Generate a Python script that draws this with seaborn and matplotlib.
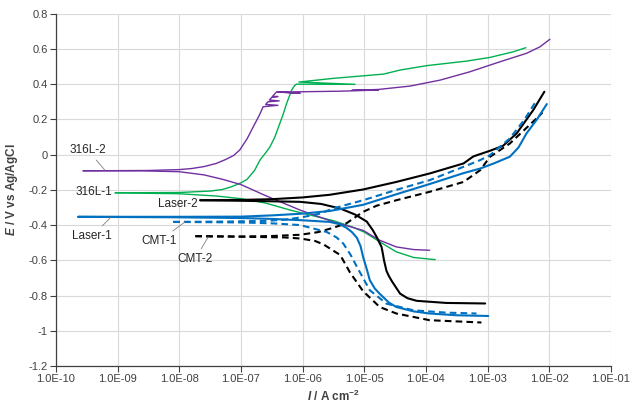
import numpy as np
import pandas as pd
import matplotlib
matplotlib.use("Agg")
import matplotlib.pyplot as plt
import seaborn as sns

# ---------------- data (log10 of current density, A cm-2; potential, V) ----------------
# 316L-1 (green)
l1_an_logI = [-9.04, -8.0, -7.5, -7.3, -7.15, -7.0, -6.9, -6.78, -6.69, -6.6, -6.53, -6.45, -6.37, -6.31, -6.26, -6.18, -6.13, -6.10,
              -5.15, -6.06, -5.50, -4.69, -4.42, -3.99, -3.34, -2.96, -2.58, -2.38]
l1_an_E = [-0.217, -0.215, -0.207, -0.198, -0.182, -0.16, -0.14, -0.09, -0.03, 0.01, 0.044, 0.10, 0.177, 0.235, 0.29, 0.365, 0.392, 0.40,
           0.399, 0.412, 0.433, 0.457, 0.48, 0.505, 0.531, 0.552, 0.584, 0.607]
l1_ca_logI = [-9.04, -8.0, -7.4, -7.0, -6.6, -6.2, -5.8, -5.5, -5.2, -5.0, -4.75, -4.48, -4.2, -3.85]
l1_ca_E = [-0.217, -0.222, -0.235, -0.25, -0.275, -0.315, -0.35, -0.375, -0.41, -0.44, -0.495, -0.552, -0.584, -0.596]

# 316L-2 (purple)
l2_an_logI = [-9.56, -8.5, -8.0, -7.8, -7.6, -7.4, -7.25, -7.12, -7.02, -6.90, -6.80, -6.70, -6.64, -6.40, -6.60, -6.56, -6.38,
              -6.54, -6.50, -6.40, -6.49, -6.42, -6.04, -6.40, -5.40, -5.20, -4.77, -5.20, -4.77, -4.26, -3.77,
              -3.29, -2.80, -2.37, -2.15, -1.99]
l2_an_E = [-0.092, -0.09, -0.085, -0.079, -0.068, -0.05, -0.028, -0.005, 0.026, 0.09, 0.158, 0.225, 0.272, 0.28, 0.285, 0.30, 0.305,
           0.31, 0.325, 0.33, 0.33, 0.357, 0.348, 0.355, 0.360, 0.362, 0.367, 0.365, 0.370, 0.389, 0.423,
           0.47, 0.527, 0.575, 0.612, 0.655]
l2_ca_logI = [-9.56, -8.6, -8.0, -7.6, -7.3, -7.0, -6.58, -6.04, -5.50, -5.02, -4.75, -4.48, -4.2, -3.94]
l2_ca_E = [-0.092, -0.092, -0.097, -0.115, -0.14, -0.17, -0.236, -0.315, -0.382, -0.43, -0.486, -0.524, -0.539, -0.543]

# Laser-1 (blue solid)
la1_an_logI = [-9.64, -8.0, -7.0, -6.5, -6.0, -5.56, -5.02, -4.48, -3.94, -3.39, -3.12, -2.90, -2.64, -2.5, -2.37, -2.2, -2.04]
la1_an_E = [-0.353, -0.353, -0.352, -0.345, -0.335, -0.32, -0.285, -0.225, -0.167, -0.105, -0.079, -0.05, -0.012, 0.04, 0.12, 0.2, 0.287]
la1_ca_logI = [-9.64, -8.0, -7.0, -6.5, -6.04, -5.56, -5.4, -5.29, -5.2, -5.12, -5.06, -5.02, -4.96, -4.91, -4.83, -4.75,
               -4.6, -4.48, -4.2, -3.94, -3.5, -2.99]
la1_ca_E = [-0.353, -0.356, -0.36, -0.365, -0.372, -0.382, -0.395, -0.415, -0.44, -0.472, -0.52, -0.58, -0.65, -0.713, -0.76, -0.79,
            -0.84, -0.865, -0.89, -0.902, -0.912, -0.916]

# Laser-2 (black solid)
la2_an_logI = [-7.66, -7.0, -6.5, -6.0, -5.56, -5.02, -4.48, -3.94, -3.39, -3.23, -2.96, -2.75, -2.53, -2.26, -2.08]
la2_an_E = [-0.259, -0.257, -0.253, -0.243, -0.228, -0.198, -0.155, -0.107, -0.05, -0.01, 0.022, 0.05, 0.12, 0.253, 0.357]
la2_ca_logI = [-7.66, -7.0, -6.5, -6.04, -5.7, -5.39, -5.15, -4.96, -4.86, -4.80, -4.72, -4.70, -4.68, -4.66, -4.64, -4.60,
               -4.55, -4.42, -4.3, -4.15, -3.67, -3.04]
la2_ca_E = [-0.259, -0.262, -0.265, -0.268, -0.28, -0.306, -0.34, -0.38, -0.43, -0.467, -0.524, -0.56, -0.60, -0.63, -0.66, -0.69,
            -0.72, -0.789, -0.815, -0.830, -0.842, -0.845]

# CMT-1 (blue dashed)
c1_an_logI = [-8.10, -7.2, -6.6, -6.3, -6.0, -5.72, -5.5, -5.02, -4.48, -3.94, -3.39, -3.12, -2.96, -2.64, -2.4, -2.21]
c1_an_E = [-0.382, -0.38, -0.376, -0.37, -0.355, -0.335, -0.305, -0.259, -0.20, -0.145, -0.069, -0.031, -0.003, 0.092, 0.2, 0.306]
c1_ca_logI = [-8.10, -7.0, -6.5, -6.04, -5.61, -5.45, -5.34, -5.22, -5.12, -4.91, -4.64, -4.20, -3.67, -3.18]
c1_ca_E = [-0.382, -0.385, -0.39, -0.40, -0.439, -0.47, -0.505, -0.57, -0.637, -0.77, -0.846, -0.884, -0.897, -0.902]

# CMT-2 (black dashed)
c2_an_logI = [-7.74, -7.0, -6.5, -6.04, -5.75, -5.5, -5.29, -5.02, -4.80, -4.48, -3.94, -3.39, -3.12, -2.96, -2.64, -2.15, -2.11]
c2_an_E = [-0.463, -0.465, -0.462, -0.455, -0.44, -0.415, -0.39, -0.325, -0.29, -0.259, -0.211, -0.155, -0.088, -0.012, 0.063, 0.224, 0.24]
c2_ca_logI = [-7.74, -7.0, -6.3, -6.04, -5.80, -5.66, -5.39, -5.23, -5.02, -4.75, -4.48, -3.94, -3.10]
c2_ca_E = [-0.463, -0.466, -0.47, -0.476, -0.49, -0.51, -0.57, -0.67, -0.775, -0.865, -0.902, -0.94, -0.953]

x_ticks = [1e-10, 1e-9, 1e-8, 1e-7, 1e-6, 1e-5, 1e-4, 1e-3, 1e-2, 1e-1]
x_ticklabels = ["1.0E-10", "1.0E-09", "1.0E-08", "1.0E-07", "1.0E-06", "1.0E-05",
                "1.0E-04", "1.0E-03", "1.0E-02", "1.0E-01"]
y_ticks = [0.8, 0.6, 0.4, 0.2, 0.0, -0.2, -0.4, -0.6, -0.8, -1.0, -1.2]
y_ticklabels = ["0.8", "0.6", "0.4", "0.2", "0", "-0.2", "-0.4", "-0.6", "-0.8", "-1", "-1.2"]

# ---------------- styling ----------------
sns.set_theme(style="white")
plt.rcParams["font.family"] = ["Liberation Sans", "DejaVu Sans"]
plt.rcParams["mathtext.fontset"] = "custom"
plt.rcParams["mathtext.rm"] = "Liberation Sans"
plt.rcParams["mathtext.bf"] = "Liberation Sans:bold"
plt.rcParams["mathtext.it"] = "Liberation Sans:italic"
plt.rcParams["mathtext.bfit"] = "Liberation Sans:italic:bold"

PURPLE = "#7030A0"
GREEN = "#00B050"
BLUE = "#0070C0"
BLACK = "#000000"
DASH = (0, (3.2, 2.0))

curves = [
    (l1_an_logI, l1_an_E, l1_ca_logI, l1_ca_E, GREEN, 1.0, "-"),
    (l2_an_logI, l2_an_E, l2_ca_logI, l2_ca_E, PURPLE, 1.0, "-"),
    (la2_an_logI, la2_an_E, la2_ca_logI, la2_ca_E, BLACK, 1.5, "-"),
    (c2_an_logI, c2_an_E, c2_ca_logI, c2_ca_E, BLACK, 1.5, DASH),
    (c1_an_logI, c1_an_E, c1_ca_logI, c1_ca_E, BLUE, 1.5, DASH),
    (la1_an_logI, la1_an_E, la1_ca_logI, la1_ca_E, BLUE, 1.5, "-"),
]

fig = plt.figure(figsize=(6.31, 4.03), dpi=100)
ax = fig.add_axes([0.0887, 0.0918, 0.8795, 0.8742])

for an_x, an_y, ca_x, ca_y, col, lw, ls in curves:
    for bx, by in ((an_x, an_y), (ca_x, ca_y)):
        df = pd.DataFrame({"I": np.power(10.0, np.array(bx)), "E": by})
        sns.lineplot(data=df, x="I", y="E", sort=False, estimator=None, ax=ax,
                     color=col, linewidth=lw, linestyle=ls)

ax.set_xscale("log")
ax.set_xlim(1e-10, 1e-1)
ax.set_ylim(-1.2, 0.8)
ax.set_xticks(x_ticks)
ax.set_xticklabels(x_ticklabels)
ax.set_yticks(y_ticks)
ax.set_yticklabels(y_ticklabels)
ax.minorticks_off()

ax.grid(True, color="#D9D9D9", linewidth=0.8)
ax.set_axisbelow(True)
for s in ("top", "right"):
    ax.spines[s].set_visible(False)
for s in ("left", "bottom"):
    ax.spines[s].set_color("#404040")
    ax.spines[s].set_linewidth(0.9)
ax.tick_params(axis="both", which="major", direction="out", length=4, width=0.8,
               color="#404040", labelsize=8, labelcolor="#404040", left=True, bottom=True, pad=2)

ax.set_xlabel(r"$\mathbfit{I}$ / A cm$^{\mathbf{-2}}$", fontsize=8.5, fontweight="bold", color="#404040", labelpad=3)
ax.set_ylabel(r"$\mathbfit{E}$ / V vs Ag/AgCl", fontsize=8.5, fontweight="bold", color="#404040", labelpad=6)

# ---------------- annotations ----------------
ann_kw = dict(fontsize=8.5, color="#262626", ha="center", va="center")
arrow = dict(arrowstyle="-", color="#7F7F7F", lw=0.6, shrinkA=1, shrinkB=0)
ax.annotate("316L-2", xy=(6.2e-10, -0.088), xytext=(3.24e-10, 0.028), arrowprops=arrow, **ann_kw)
ax.annotate("316L-1", xy=(4.05e-10, -0.211), xytext=(4.05e-10, -0.211), **ann_kw)
ax.annotate("Laser-2", xy=(9.33e-9, -0.281), xytext=(9.33e-9, -0.281), **ann_kw)
ax.annotate("Laser-1", xy=(7.7e-10, -0.357), xytext=(3.84e-10, -0.463), arrowprops=arrow, **ann_kw)
ax.annotate("CMT-1", xy=(1.24e-8, -0.382), xytext=(4.68e-9, -0.491), arrowprops=arrow, **ann_kw)
ax.annotate("CMT-2", xy=(2.95e-8, -0.467), xytext=(1.8e-8, -0.594), arrowprops=arrow, **ann_kw)

fig.savefig("out.png", dpi=100)
